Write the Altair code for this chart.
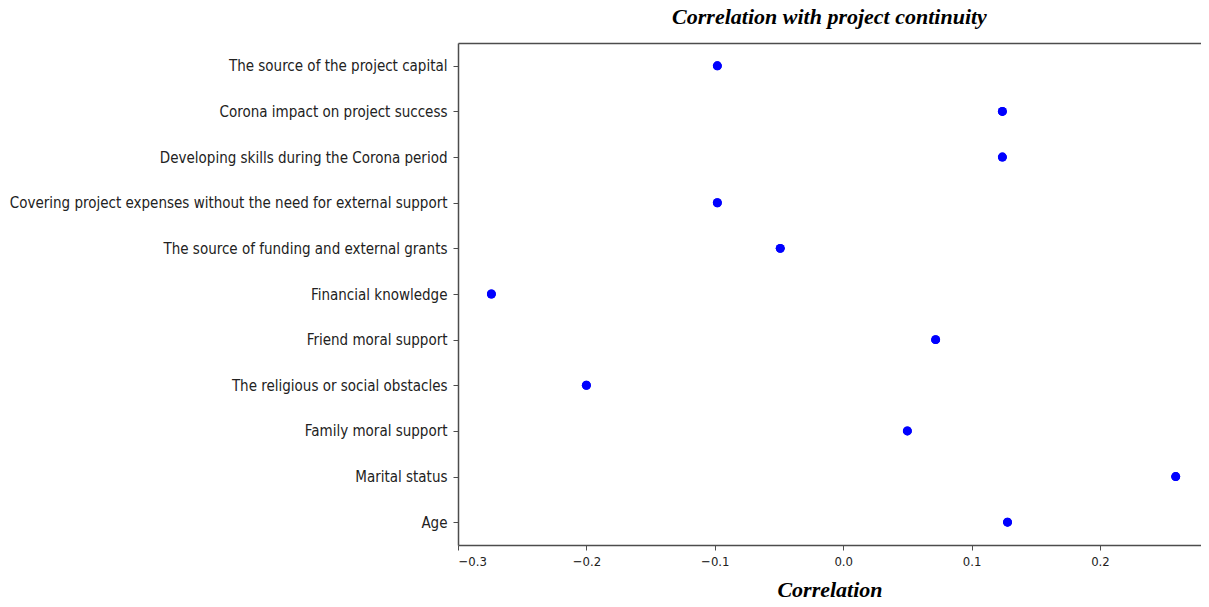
import altair as alt
import pandas as pd

factors = [
    "The source of the project capital",
    "Corona impact on project success",
    "Developing skills during the Corona period",
    "Covering project expenses without the need for external support",
    "The source of funding and external grants",
    "Financial knowledge",
    "Friend moral support",
    "The religious or social obstacles",
    "Family moral support",
    "Marital status",
    "Age",
]
correlations = [-0.098, 0.124, 0.124, -0.098, -0.049, -0.274, 0.072, -0.200, 0.050, 0.259, 0.128]
x_ticks = [-0.3, -0.2, -0.1, 0.0, 0.1, 0.2]

df = pd.DataFrame({"factor": factors, "corr": correlations})

LABEL_FONT = "DejaVu Sans Condensed"
TITLE_FONT = "Liberation Serif"
LINE = "#4d4d4d"

xscale = alt.Scale(domain=[-0.3, 0.2787], nice=False, zero=False)
yscale = alt.Scale(domain=factors, padding=0.5)

base = alt.Chart(df)

points = base.mark_point(filled=True, size=80, color="#0000ff", opacity=1).encode(
    x=alt.X("corr:Q", scale=xscale,
            axis=alt.Axis(values=x_ticks, format=".1f", grid=False, title="Correlation",
                          titleFont=TITLE_FONT, titleFontSize=22, titleFontStyle="italic",
                          titleFontWeight="bold", titleColor="#000000", titleBaseline="alphabetic",
                          titleY=51, labelFont=LABEL_FONT, labelFontSize=13, labelColor="#222222",
                          labelPadding=5, tickSize=5, tickColor=LINE, domainColor=LINE,
                          domainWidth=1.5)),
    y=alt.Y("factor:N", sort=factors, scale=yscale,
            axis=alt.Axis(title=None, labelFont=LABEL_FONT, labelFontSize=15, labelColor="#222222",
                          labelPadding=6, tickSize=5, tickColor=LINE, domainColor=LINE,
                          domainWidth=1.5, labelLimit=460)),
)

topline = base.mark_point(filled=True, size=80, color="#0000ff", opacity=1).encode(
    x=alt.X("corr:Q", scale=xscale,
            axis=alt.Axis(orient="top", labels=False, ticks=False, grid=False, title=None,
                          domainColor=LINE, domainWidth=1.5)),
    y=alt.Y("factor:N", sort=factors, scale=yscale, axis=None),
)

chart = (
    alt.layer(points, topline)
    .resolve_axis(x="independent", y="independent")
    .properties(
        width=743,
        height=502,
        title=alt.TitleParams("Correlation with project continuity", font=TITLE_FONT, fontSize=22,
                              fontStyle="italic", fontWeight="bold", color="#000000",
                              anchor="middle", baseline="alphabetic", offset=-3),
        autosize=alt.AutoSizeParams(type="none"),
        padding={"left": 450, "top": 35, "right": 0, "bottom": 54},
    )
    .configure_view(stroke=None)
)

chart.save("out.html", embed_options={"renderer": "svg", "actions": False})
